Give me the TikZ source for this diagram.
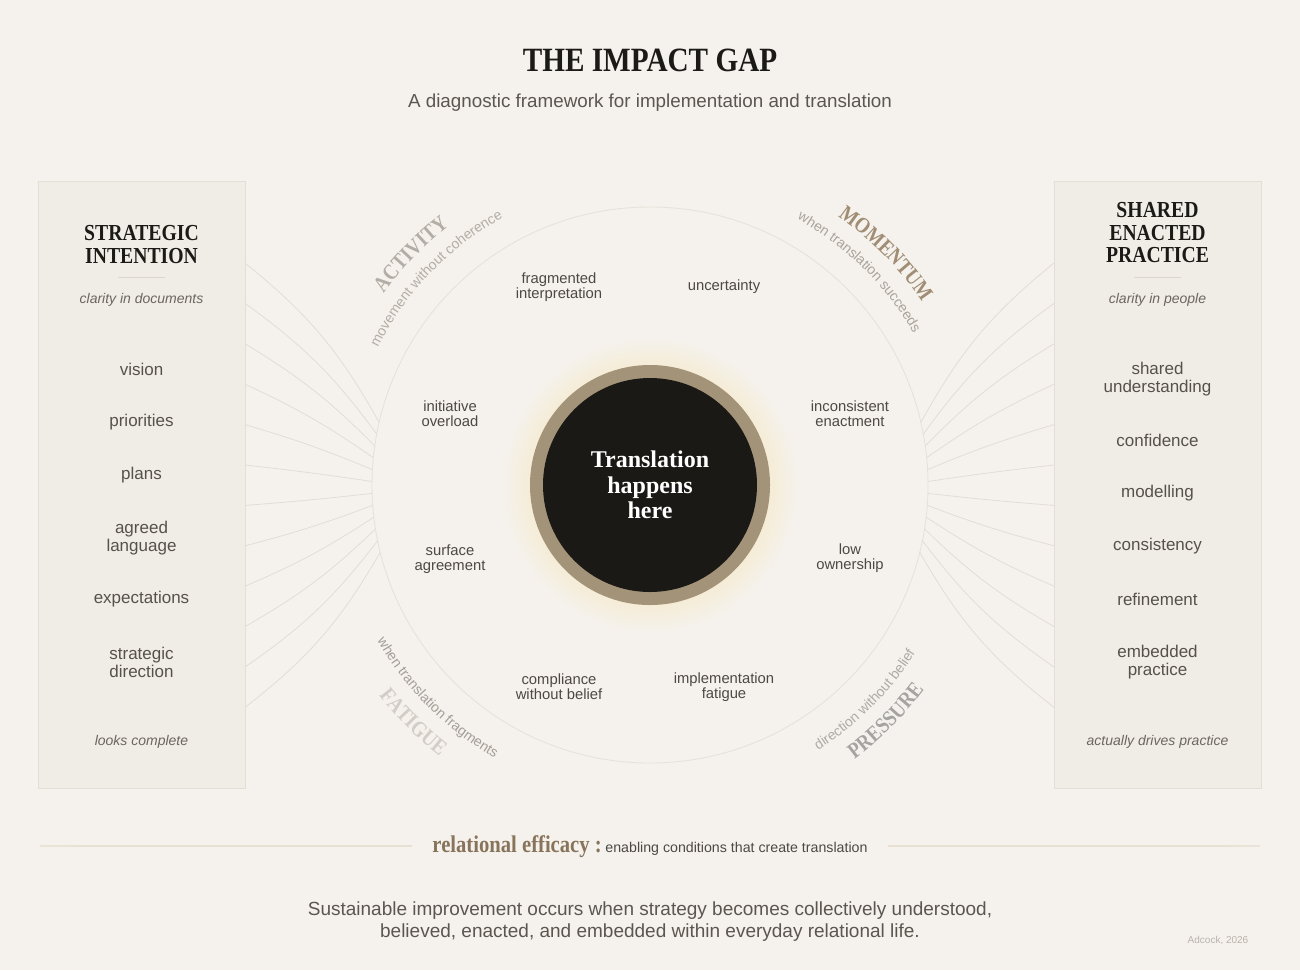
\documentclass[tikz,border=0pt]{standalone}
\usepackage{fontspec}
\setmainfont{Liberation Sans}
\newfontfamily\seriff[FakeStretch=0.86]{Liberation Serif}
\newfontfamily\serifn{Liberation Serif}
\usetikzlibrary{decorations.text}
\definecolor{bgc}{HTML}{F5F2ED}
\definecolor{panelc}{HTML}{F0EDE7}
\definecolor{panelline}{HTML}{E3DFD7}
\definecolor{ringc}{HTML}{E6E2DB}
\definecolor{fanc}{HTML}{E2DDD5}
\definecolor{glowc}{HTML}{F5ECD5}
\definecolor{goldc}{HTML}{A39379}
\definecolor{blackc}{HTML}{1B1916}
\definecolor{titlec}{HTML}{1C1A17}
\definecolor{subc}{HTML}{5B5650}
\definecolor{itemc}{HTML}{56514B}
\definecolor{notec}{HTML}{6B665F}
\definecolor{labc}{HTML}{4D4843}
\definecolor{relc}{HTML}{87745B}
\definecolor{rlc}{HTML}{E8E0D2}
\definecolor{divc}{HTML}{DCD6CC}
\definecolor{actc}{HTML}{B3ADA5}
\definecolor{actsc}{HTML}{B3ADA5}
\definecolor{momc}{HTML}{A08D73}
\definecolor{momsc}{HTML}{A9A39B}
\definecolor{fatc}{HTML}{D2CDC6}
\definecolor{fatsc}{HTML}{A39E97}
\definecolor{prec}{HTML}{A6A4A3}
\definecolor{presc}{HTML}{AEAAA6}
\definecolor{creditc}{HTML}{B8B3AC}
\pgfdeclareradialshading{glowshade}{\pgfpoint{0bp}{0bp}}{color(0bp)=(glowc); color(20bp)=(glowc); color(25bp)=(bgc); color(50bp)=(bgc)}
\pgfdeclarehorizontalshading{lineshadeL}{100bp}{color(0bp)=(bgc); color(32bp)=(rlc); color(82bp)=(rlc); color(100bp)=(bgc)}
\pgfdeclarehorizontalshading{lineshadeR}{100bp}{color(0bp)=(bgc); color(18bp)=(rlc); color(68bp)=(rlc); color(100bp)=(bgc)}
\newcommand\bigarcfont{\seriff\bfseries\fontsize{22}{22}\selectfont}
\newcommand\smallarcfont{\fontsize{14}{14}\selectfont}
\tikzset{
  item/.style={font=\fontsize{17}{18}\selectfont, text=itemc, align=center, inner sep=0pt},
  lab/.style={font=\fontsize{14.8}{15}\selectfont, text=labc, align=center, inner sep=0pt},
  note/.style={font=\itshape\fontsize{14}{16}\selectfont, text=notec, inner sep=0pt},
  head/.style={font=\seriff\bfseries\fontsize{22.9}{22.5}\selectfont, text=titlec, align=center, inner sep=0pt},
  fanline/.style={draw=fanc, line width=0.8pt},
  panelbox/.style={fill=panelc, draw=panelline, line width=1pt},
  divline/.style={draw=divc, line width=0.8pt},
}
\begin{document}
\begin{tikzpicture}[x=1pt,y=1pt]
\useasboundingbox (0,0) rectangle (1300,-970);
\fill[bgc] (0,0) rectangle (1300,-970);

% panels
\draw[panelbox] (38,-181) rectangle (245,-788);
\draw[panelbox] (1054,-181) rectangle (1261,-788);

% big faint circle
\coordinate (C) at (650,-485);
\draw[draw=ringc, line width=0.9pt] (C) circle[radius=278];

% fan lines
\foreach \i in {0,...,11}{
  \pgfmathsetmacro\yy{263+40.4*\i}
  \pgfmathsetmacro\aa{167+2.4545*\i}
  \pgfmathsetmacro\bb{11-22*\i/11}
  \pgfmathsetmacro\lx{650+278*cos(\aa)}
  \pgfmathsetmacro\ly{-485+278*sin(\aa)}
  \pgfmathsetmacro\rx{650-278*cos(\aa)}
  \coordinate (lp\i) at (245,-\yy);
  \coordinate (lc\i) at (\lx,\ly);
  \coordinate (rp\i) at (1054,-\yy);
  \coordinate (rc\i) at (\rx,\ly);
  \draw[fanline] (lp\i) to[bend left=\bb] (lc\i);
  \draw[fanline] (rc\i) to[bend left=\bb] (rp\i);
}

% glow and central circle
\shade[shading=glowshade] (C) circle[radius=148];
\fill[goldc] (C) circle[radius=120];
\fill[blackc] (C) circle[radius=107];
\node[inner sep=0pt, align=center, text=white, font=\serifn\bfseries\fontsize{24}{25.5}\selectfont] (centre) at (650,-485) {Translation\\happens\\here};

% title
\node[inner sep=0pt, text=titlec, font=\seriff\bfseries\fontsize{34}{34}\selectfont] (title) at (650,-60) {THE IMPACT GAP};
\node[inner sep=0pt, text=subc, font=\fontsize{18.8}{20}\selectfont] (subtitle) at (650,-103) {A diagnostic framework for implementation and translation};

% left panel
\node[head] (lhead) at (141.5,-244.5) {STRATEGIC\\INTENTION};
\draw[divline] (118,-277) -- (165,-277);
\node[note] (lnote) at (141.5,-299.5) {clarity in documents};
\node[item] (l1) at (141.5,-369) {vision};
\node[item] (l2) at (141.5,-422) {priorities};
\node[item] (l3) at (141.5,-475) {plans};
\node[item] (l4) at (141.5,-538) {agreed\\language};
\node[item] (l5) at (141.5,-599.5) {expectations};
\node[item] (l6) at (141.5,-662) {strategic\\direction};
\node[note] (lend) at (141.5,-741.5) {looks complete};

% right panel
\node[head] (rhead) at (1157.5,-233) {SHARED\\ENACTED\\PRACTICE};
\draw[divline] (1134,-277) -- (1181,-277);
\node[note] (rnote) at (1157.5,-299.5) {clarity in people};
\node[item] (r1) at (1157.5,-379) {shared\\understanding};
\node[item] (r2) at (1157.5,-440) {confidence};
\node[item] (r3) at (1157.5,-493.5) {modelling};
\node[item] (r4) at (1157.5,-546.5) {consistency};
\node[item] (r5) at (1157.5,-599.5) {refinement};
\node[item] (r6) at (1157.5,-662) {embedded\\practice};
\node[note] (rend) at (1157.5,-741.5) {actually drives practice};

% labels inside circle
\node[lab] (c1) at (559,-287.5) {fragmented\\interpretation};
\node[lab] (c2) at (724,-286.5) {uncertainty};
\node[lab] (c3) at (450,-414) {initiative\\overload};
\node[lab] (c4) at (850,-414) {inconsistent\\enactment};
\node[lab] (c5) at (450,-559) {surface\\agreement};
\node[lab] (c6) at (850,-558) {low\\ownership};
\node[lab] (c7) at (559,-687) {compliance\\without belief};
\node[lab] (c8) at (724,-687) {implementation\\fatigue};

% arc labels
\path[decorate, decoration={text along path, text align=center, text={|\bigarcfont\color{actc}|ACTIVITY}}]
  (C) ++(171:328) arc[start angle=171, end angle=101, radius=328];
\path[decorate, decoration={text along path, text align=center, text={|\smallarcfont\color{actsc}|movement without coherence}}]
  (C) ++(171:305) arc[start angle=171, end angle=101, radius=305];
\path[decorate, decoration={text along path, text align=center, text={|\bigarcfont\color{momc}|MOMENTUM}}]
  (C) ++(79.5:328) arc[start angle=79.5, end angle=9.5, radius=328];
\path[decorate, decoration={text along path, text align=center, text={|\smallarcfont\color{momsc}|when translation succeeds}}]
  (C) ++(80.5:304) arc[start angle=80.5, end angle=10.5, radius=304];
\path[decorate, decoration={text along path, text align=center, text={|\bigarcfont\color{fatc}|FATIGUE}}]
  (C) ++(190:343) arc[start angle=190, end angle=260, radius=343];
\path[decorate, decoration={text along path, text align=center, text={|\smallarcfont\color{fatsc}|when translation fragments}}]
  (C) ++(190:314) arc[start angle=190, end angle=260, radius=314];
\path[decorate, decoration={text along path, text align=center, text={|\bigarcfont\color{prec}|PRESSURE}}]
  (C) ++(280:342) arc[start angle=280, end angle=350, radius=342];
\path[decorate, decoration={text along path, text align=center, text={|\smallarcfont\color{presc}|direction without belief}}]
  (C) ++(280:314) arc[start angle=280, end angle=350, radius=314];

% relational efficacy line
\shade[shading=lineshadeL] (40,-845.4) rectangle (412,-846.6);
\shade[shading=lineshadeR] (888,-845.4) rectangle (1260,-846.6);
\node[inner sep=0pt, anchor=base] (rel) at (650,-852) {{\seriff\bfseries\fontsize{24}{24}\selectfont\color{relc}relational efficacy :} {\fontsize{14.2}{16}\selectfont\color{labc}enabling conditions that create translation}};

% bottom statement
\node[inner sep=0pt, align=center, text=subc, font=\fontsize{19}{22}\selectfont] (bottom) at (650,-922) {Sustainable improvement occurs when strategy becomes collectively understood,\\believed, enacted, and embedded within everyday relational life.};
\node[inner sep=0pt, text=creditc, font=\fontsize{10}{12}\selectfont] (credit) at (1218,-940) {Adcock, 2026};
\end{tikzpicture}
\end{document}
